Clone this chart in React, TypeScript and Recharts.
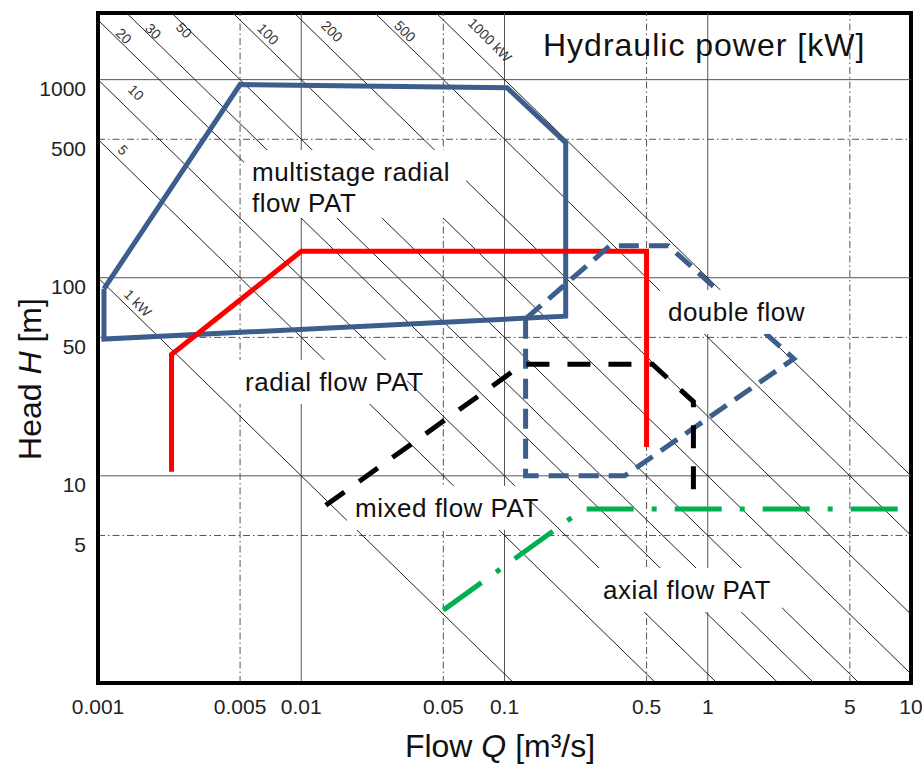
import React from "react"
import { LineChart, Line, XAxis, YAxis, ReferenceLine, ReferenceDot, ReferenceArea } from "recharts"

const FONT = "'Liberation Sans', Arial, sans-serif"

// axes (log-log)
const qDomain = [0.001, 10]
const hDomain = [0.9, 2170]
const xTicks = [0.001, 0.005, 0.01, 0.05, 0.1, 0.5, 1, 5, 10]
const yTicks = [5, 10, 50, 100, 500, 1000]
const xSolid = [0.01, 0.1, 1]
const xDashDot = [0.005, 0.05, 0.5, 5]
const ySolid = [10, 100, 1000]
const yDashDot = [5, 50, 500]

// iso hydraulic power lines, P = 10 * Q * H  [kW]
const powerKW = [1, 5, 10, 20, 30, 50, 100, 200, 500, 1000]

// application ranges, Q [m3/s], H [m]
const multistageRadial = [
  { q: 0.00107, h: 88 },
  { q: 0.005, h: 945 },
  { q: 0.103, h: 910 },
  { q: 0.2, h: 480 },
  { q: 0.2, h: 64 },
  { q: 0.00107, h: 49 },
  { q: 0.00107, h: 88 },
]
const radialFlow = [
  { q: 0.0023, h: 10.5 },
  { q: 0.0023, h: 41 },
  { q: 0.01, h: 136 },
  { q: 0.5, h: 136 },
  { q: 0.5, h: 14 },
]
const doubleFlow = [
  { q: 0.127, h: 62 },
  { q: 0.127, h: 10 },
  { q: 0.39, h: 10 },
  { q: 2.65, h: 39 },
  { q: 0.64, h: 145 },
  { q: 0.33, h: 145 },
  { q: 0.127, h: 62 },
]
const mixedFlow = [
  { q: 0.0132, h: 7.1 },
  { q: 0.123, h: 36.6 },
  { q: 0.534, h: 36.6 },
  { q: 0.85, h: 23.7 },
  { q: 0.85, h: 8.2 },
]
const axialFlow = [
  { q: 0.05, h: 2.1 },
  { q: 0.245, h: 6.8 },
  { q: 10, h: 6.8 },
]

const powerLabels = [
  { text: "20", q: 0.00134, h: 1660 },
  { text: "30", q: 0.00187, h: 1758 },
  { text: "50", q: 0.00265, h: 1778 },
  { text: "100", q: 0.00686, h: 1698 },
  { text: "200", q: 0.01416, h: 1758 },
  { text: "500", q: 0.0324, h: 1758 },
  { text: "1000 kW", q: 0.0848, h: 1585 },
  { text: "10", q: 0.00154, h: 861 },
  { text: "5", q: 0.00133, h: 442 },
  { text: "1 kW", q: 0.00157, h: 74.6 },
]

const regionLabels = [
  { lines: ["multistage radial", "flow PAT"], q: 0.00573, h: 342, w: 222 },
  { lines: ["radial flow PAT"], q: 0.00529, h: 29.8, w: 170 },
  { lines: ["double flow"], q: 0.637, h: 67.2, w: 155 },
  { lines: ["mixed flow PAT"], q: 0.0184, h: 6.89, w: 182 },
  { lines: ["axial flow PAT"], q: 0.305, h: 2.65, w: 187 },
]

const powerSegments = powerKW
  .map((p) => {
    const q1 = Math.max(qDomain[0], p / (10 * hDomain[1]))
    const q2 = Math.min(qDomain[1], p / (10 * hDomain[0]))
    return { p, seg: [{ x: q1, y: p / (10 * q1) }, { x: q2, y: p / (10 * q2) }] }
  })

const BLUE = "#3B5E8C"
const GRID = "#555"
const DASHDOT = "7 3 1.5 3"

function YTitle(props: any) {
  const { viewBox } = props
  const cx = viewBox.x + 30
  const cy = viewBox.y + 366
  return (
    <text x={cx} y={cy} transform={`rotate(-90 ${cx} ${cy})`} textAnchor="middle" dominantBaseline="central" fontSize={32} fill="#111" fontFamily={FONT}>
      Head <tspan fontStyle="italic">H</tspan> [m]
    </text>
  )
}

function XTitle(props: any) {
  const { viewBox } = props
  return (
    <text x={viewBox.x + 402} y={viewBox.y + 74} textAnchor="middle" fontSize={32} fill="#111" fontFamily={FONT}>
      Flow <tspan fontStyle="italic">Q</tspan> [m³/s]
    </text>
  )
}

function YTick(props: any) {
  const { x, y, payload } = props
  return (
    <text x={x} y={y + 9} textAnchor="end" dominantBaseline="central" fontSize={21} fill="#222" fontFamily={FONT}>
      {payload.value}
    </text>
  )
}

export default function App() {
  return (
    <div style={{ position: "absolute", left: 0, top: 0, background: "#fff" }}>
      <LineChart width={922} height={766} margin={{ top: 13, right: 11, bottom: 0, left: 0 }} style={{ fontFamily: FONT }}>
        <XAxis
          dataKey="q"
          type="number"
          scale="log"
          domain={qDomain}
          ticks={xTicks}
          allowDataOverflow
          height={83}
          tickLine={false}
          tickSize={0}
          tickMargin={16}
          axisLine={{ stroke: "#000", strokeWidth: 4 }}
          tick={{ fontSize: 21, fill: "#222", fontFamily: FONT }}
          label={{ content: XTitle }}
        />
        <YAxis
          dataKey="h"
          type="number"
          scale="log"
          domain={hDomain}
          ticks={yTicks}
          allowDataOverflow
          width={98}
          tickLine={false}
          tickSize={0}
          tickMargin={12}
          axisLine={{ stroke: "#000", strokeWidth: 4 }}
          tick={YTick}
          label={{ content: YTitle }}
        />

        {xSolid.map((v) => (
          <ReferenceLine key={"xs" + v} x={v} stroke={GRID} strokeWidth={1} />
        ))}
        {xDashDot.map((v) => (
          <ReferenceLine key={"xd" + v} x={v} stroke={GRID} strokeWidth={1} strokeDasharray={DASHDOT} />
        ))}
        {ySolid.map((v) => (
          <ReferenceLine key={"ys" + v} y={v} stroke={GRID} strokeWidth={1} />
        ))}
        {yDashDot.map((v) => (
          <ReferenceLine key={"yd" + v} y={v} stroke={GRID} strokeWidth={1} strokeDasharray={DASHDOT} />
        ))}
        {powerSegments.map((s) => (
          <ReferenceLine key={"p" + s.p} segment={s.seg} stroke="#222" strokeWidth={1} ifOverflow="hidden" />
        ))}

        <Line data={multistageRadial} dataKey="h" name="multistage" type="linear" stroke={BLUE} strokeWidth={5} dot={false} isAnimationActive={false} />
        <Line data={radialFlow} dataKey="h" name="radial" type="linear" stroke="#FF0000" strokeWidth={5} dot={false} isAnimationActive={false} />
        <Line data={doubleFlow} dataKey="h" name="double" type="linear" stroke={BLUE} strokeWidth={5} strokeDasharray="20 10" dot={false} isAnimationActive={false} />
        <Line data={mixedFlow} dataKey="h" name="mixed" type="linear" stroke="#000" strokeWidth={5} strokeDasharray="23 18" dot={false} isAnimationActive={false} />
        <Line data={axialFlow} dataKey="h" name="axial" type="linear" stroke="#00B050" strokeWidth={5} strokeDasharray="47 18 5 18" dot={false} isAnimationActive={false} />

        {powerLabels.map((l) => (
          <ReferenceDot
            key={"pl" + l.text}
            x={l.q}
            y={l.h}
            r={0}
            ifOverflow="visible"
            shape={(p: any) => (
              <text x={p.cx} y={p.cy} transform={`rotate(45 ${p.cx} ${p.cy})`} textAnchor="middle" dominantBaseline="central" fontSize={14} fill="#333" fontFamily={FONT}>
                {l.text}
              </text>
            )}
          />
        ))}

        {regionLabels.map((l) => (
          <ReferenceDot
            key={"rl" + l.lines[0]}
            x={l.q}
            y={l.h}
            r={0}
            ifOverflow="visible"
            shape={(p: any) => (
              <g>
                <rect x={p.cx - 8} y={p.cy - 22} width={l.w} height={44 + (l.lines.length - 1) * 24} fill="#fff" />
                {l.lines.map((t, i) => (
                  <text key={t} x={p.cx} y={p.cy + i * 31} dominantBaseline="central" fontSize={26} letterSpacing={0.5} fill="#111" fontFamily={FONT}>
                    {t}
                  </text>
                ))}
              </g>
            )}
          />
        ))}

        <ReferenceDot
          x={0.1547}
          y={1496}
          r={0}
          ifOverflow="visible"
          shape={(p: any) => (
            <text x={p.cx} y={p.cy} dominantBaseline="central" fontSize={32} letterSpacing={1} fill="#111" fontFamily={FONT}>
              Hydraulic power [kW]
            </text>
          )}
        />

        <ReferenceArea x1={qDomain[0]} x2={qDomain[1]} y1={hDomain[0]} y2={hDomain[1]} fill="none" stroke="#000" strokeWidth={4} ifOverflow="visible" />
      </LineChart>
    </div>
  )
}
